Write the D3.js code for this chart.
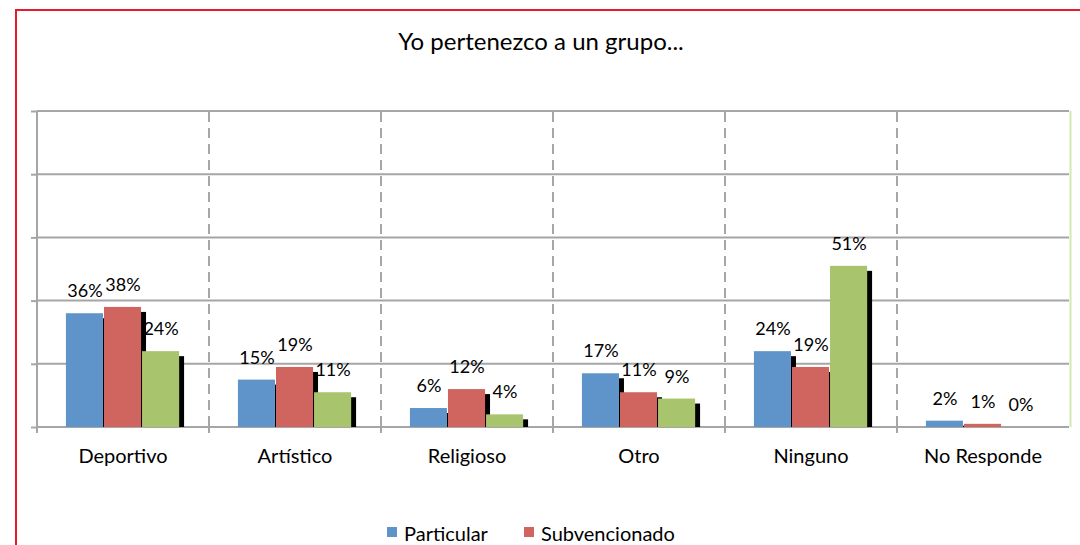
<!DOCTYPE html>
<html>
<head>
<meta charset="utf-8">
<script src="https://cdn.jsdelivr.net/npm/d3@7/dist/d3.min.js"></script>
<style>
  html, body { margin: 0; padding: 0; background: #fff; }
  svg { display: block; overflow: hidden; }
  text { font-family: Lato, "Open Sans", sans-serif; fill: #000; }
</style>
</head>
<body>
<div id="chart"></div>
<script>
//chart data
var title = "Yo pertenezco a un grupo...";
var categories = ["Deportivo", "Artístico", "Religioso", "Otro", "Ninguno", "No Responde"];
var seriesNames = ["Particular", "Subvencionado", "Municipal"];
var particular = [36, 15, 6, 17, 24, 2];
var subvencionado = [38, 19, 12, 11, 19, 1];
var municipal = [24, 11, 4, 9, 51, 0];
var yTicks = [0, 20, 40, 60, 80, 100];

var seriesValues = [particular, subvencionado, municipal];
var colors = ["#5e94c9", "#d0655f", "#a8c46d"];

var width = 1080;
var height = 545;

//plot box (note: "top" is taken by window.top, so prefixed names)
var plotLeft = 37, plotRight = 1069, plotTop = 111, plotBottom = 427;

var svg = d3.select("#chart").append("svg")
    .attr("width", width)
    .attr("height", height);

//red frame
svg.append("line")
    .attr("x1", 16).attr("x2", 16).attr("y1", 10).attr("y2", height)
    .attr("stroke", "#e31b2d").attr("stroke-width", 2);
svg.append("line")
    .attr("x1", 15).attr("x2", width).attr("y1", 10).attr("y2", 10)
    .attr("stroke", "#e31b2d").attr("stroke-width", 2);

//title
svg.append("text")
    .attr("x", 541)
    .attr("y", 50)
    .attr("text-anchor", "middle")
    .style("font-size", "24px")
    .text(title);

//scales
var y = d3.scaleLinear()
    .domain([0, 100])
    .range([plotBottom, plotTop]);

var x0 = d3.scaleBand()
    .domain(categories)
    .range([plotLeft, plotRight])
    .padding(0);

var x1 = d3.scaleBand()
    .domain(d3.range(seriesNames.length))
    .range([0, x0.bandwidth()])
    .paddingOuter(0.76)
    .paddingInner(0);

//left axis ticks (no labels)
var yAxis = svg.append("g")
    .attr("transform", "translate(" + plotLeft + ",0)")
    .call(d3.axisLeft(y).tickValues(yTicks).tickSize(6).tickFormat(""));
yAxis.select(".domain").remove();
yAxis.selectAll(".tick line").attr("stroke", "#a6a6a6").attr("stroke-width", 2);

//horizontal grid
svg.append("g")
    .selectAll("line")
    .data(yTicks)
    .enter().append("line")
    .attr("x1", plotLeft)
    .attr("x2", plotRight)
    .attr("y1", function(d) { return y(d); })
    .attr("y2", function(d) { return y(d); })
    .attr("stroke", "#a6a6a6")
    .attr("stroke-width", 2);

//light green edge on the right
svg.append("line")
    .attr("x1", plotRight + 1.5).attr("x2", plotRight + 1.5)
    .attr("y1", plotTop).attr("y2", plotBottom)
    .attr("stroke", "#d4e8b0").attr("stroke-width", 2);

//dashed separators between categories
svg.append("g")
    .selectAll("line")
    .data(categories.slice(1))
    .enter().append("line")
    .attr("x1", function(d) { return x0(d); })
    .attr("x2", function(d) { return x0(d); })
    .attr("y1", plotTop + 1)
    .attr("y2", plotBottom)
    .attr("stroke", "#a6a6a6")
    .attr("stroke-width", 2)
    .attr("stroke-dasharray", "10,6");

//vertical axis line
svg.append("line")
    .attr("x1", plotLeft).attr("x2", plotLeft)
    .attr("y1", plotTop).attr("y2", plotBottom + 6)
    .attr("stroke", "#a6a6a6").attr("stroke-width", 2);

//bottom ticks at category boundaries
svg.append("g")
    .selectAll("line")
    .data(categories.slice(1))
    .enter().append("line")
    .attr("x1", function(d) { return x0(d); })
    .attr("x2", function(d) { return x0(d); })
    .attr("y1", plotBottom)
    .attr("y2", plotBottom + 6)
    .attr("stroke", "#a6a6a6")
    .attr("stroke-width", 2);

//bars with a black shadow on the right
var groups = svg.append("g")
    .selectAll("g")
    .data(categories)
    .enter().append("g")
    .attr("transform", function(d) { return "translate(" + x0(d) + ",0)"; });

groups.each(function(cat, ci) {
  var g = d3.select(this);
  seriesValues.forEach(function(vals, si) {
    var v = vals[ci];
    var bx = x1(si);
    var bw = x1.bandwidth();
    var shadowTop = y(v) + 5;
    if (shadowTop < plotBottom) {
      g.append("rect")
          .attr("x", bx + bw - 1)
          .attr("y", shadowTop)
          .attr("width", 5)
          .attr("height", plotBottom - shadowTop)
          .attr("fill", "#000");
    }
    g.append("rect")
        .attr("x", bx)
        .attr("y", y(v))
        .attr("width", bw - 1)
        .attr("height", plotBottom - y(v))
        .attr("fill", colors[si]);
  });
});

//value labels
groups.each(function(cat, ci) {
  var g = d3.select(this);
  seriesValues.forEach(function(vals, si) {
    g.append("text")
        .attr("x", x1(si) + x1.bandwidth() / 2)
        .attr("y", y(vals[ci]) - 16)
        .attr("text-anchor", "middle")
        .style("font-size", "18px")
        .text(vals[ci] + "%");
  });
});

//category labels
svg.append("g")
    .selectAll("text")
    .data(categories)
    .enter().append("text")
    .attr("x", function(d) { return x0(d) + x0.bandwidth() / 2; })
    .attr("y", 463)
    .attr("text-anchor", "middle")
    .style("font-size", "20px")
    .text(function(d) { return d; });

//legend (third entry wraps to a row below the visible area)
var legendPos = [[387, 541], [524, 541], [387, 575]];
var legend = svg.append("g")
    .selectAll("g")
    .data(seriesNames)
    .enter().append("g")
    .attr("transform", function(d, i) { return "translate(" + legendPos[i][0] + "," + legendPos[i][1] + ")"; });

legend.append("rect")
    .attr("x", 0)
    .attr("y", -14)
    .attr("width", 10)
    .attr("height", 10)
    .attr("fill", function(d, i) { return colors[i]; });

legend.append("text")
    .attr("x", 17)
    .attr("y", 0)
    .style("font-size", "20px")
    .text(function(d) { return d; });
</script>
</body>
</html>
